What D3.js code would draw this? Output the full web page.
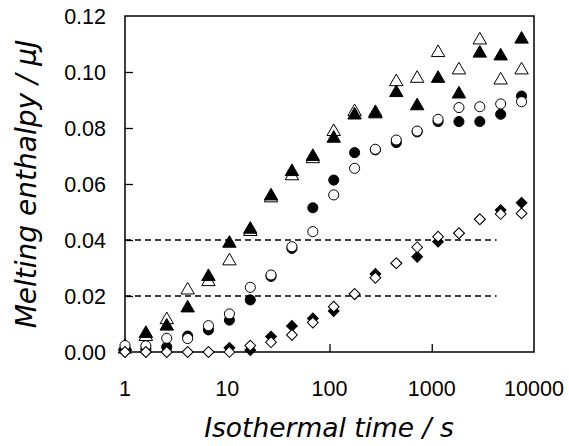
<!DOCTYPE html>
<html>
<head>
<meta charset="utf-8">
<script src="https://cdn.jsdelivr.net/npm/d3@7"></script>
<style>
  body { margin: 0; background: #fff; }
  svg { display: block; }
</style>
</head>
<body>
<div id="chart"></div>
<script>
// isothermal times (s)
var times = [1, 1.6, 2.56, 4.1, 6.55, 10.5, 16.8, 26.8, 42.9, 68.7,
             110, 176, 281, 450, 720, 1153, 1845, 2951, 4722, 7556];

// melting enthalpy (uJ) for each series
var openTriangle   = [0.001, 0.0055, 0.0115, 0.0221, 0.0251, 0.0325, 0.043, 0.055, 0.0629, 0.069,
                      0.0787, 0.0858, 0.0855, 0.0965, 0.0977, 0.1069, 0.1007, 0.1114, 0.0971, 0.1007];
var filledTriangle = [0.002, 0.0066, 0.0092, 0.0157, 0.0269, 0.0388, 0.0438, 0.0557, 0.0644, 0.0698,
                      0.0763, 0.0846, 0.085, 0.0926, 0.0879, 0.0977, 0.0921, 0.1067, 0.1057, 0.1117];
var filledCircle   = [0.001, 0.001, 0.0018, 0.0057, 0.0079, 0.0114, 0.0186, 0.027, 0.037, 0.0515,
                      0.0614, 0.0712, 0.0722, 0.0748, 0.0786, 0.0823, 0.0823, 0.0823, 0.0849, 0.0914];
var openCircle     = [0.0023, 0.0022, 0.0049, 0.0048, 0.0094, 0.0136, 0.0231, 0.0275, 0.0376, 0.043,
                      0.0561, 0.0656, 0.0724, 0.0757, 0.0789, 0.0831, 0.0873, 0.0876, 0.0886, 0.0894];
var filledDiamond  = [0, 0, 0, 0, 0, 0.0015, 0.0007, 0.0055, 0.0093, 0.012,
                      0.0146, 0.0207, 0.0279, 0.0317, 0.034, 0.0394, 0.0424, 0.0474, 0.0507, 0.0533];
var openDiamond    = [0, 0, 0, 0, 0, 0, 0.0023, 0.0035, 0.0061, 0.0105,
                      0.0162, 0.0207, 0.0265, 0.0317, 0.0374, 0.0412, 0.0424, 0.0474, 0.0493, 0.0495];

// dashed reference levels and where they stop
var refLevels = [0.04, 0.02];
var refRange = [1, 4300];

var xTicks = [1, 10, 100, 1000, 10000];
var yTicks = [0, 0.02, 0.04, 0.06, 0.08, 0.10, 0.12];

var width = 569, height = 446;
var margin = { top: 16, right: 35, bottom: 94, left: 125 };
var w = width - margin.left - margin.right;
var h = height - margin.top - margin.bottom;

var svg = d3.select("#chart").append("svg")
  .attr("width", width)
  .attr("height", height);

var g = svg.append("g")
  .attr("transform", "translate(" + margin.left + "," + margin.top + ")");

var x = d3.scaleLog().domain([1, 10000]).range([0, w]);
var y = d3.scaleLinear().domain([0, 0.12]).range([h, 0]);

// reference lines
g.selectAll(".ref")
  .data(refLevels)
  .enter().append("line")
  .attr("x1", x(refRange[0]))
  .attr("x2", x(refRange[1]))
  .attr("y1", function(d) { return y(d); })
  .attr("y2", function(d) { return y(d); })
  .attr("stroke", "#000")
  .attr("stroke-width", 1.5)
  .attr("stroke-dasharray", "6,4");

// axes (ticks point inward)
var xAxis = d3.axisBottom(x).tickValues(xTicks.slice(1, 4)).tickSize(-8).tickFormat("");
var yAxis = d3.axisLeft(y).tickValues(yTicks.slice(1, 6)).tickSize(-8).tickFormat("");

g.append("g").attr("transform", "translate(0," + h + ")").call(xAxis)
  .call(function(s) { s.select(".domain").remove(); });
g.append("g").call(yAxis)
  .call(function(s) { s.select(".domain").remove(); });
g.selectAll(".tick line").attr("stroke", "#000").attr("stroke-width", 1.3);

// frame
g.append("rect")
  .attr("width", w).attr("height", h)
  .attr("fill", "none")
  .attr("stroke", "#000")
  .attr("stroke-width", 1.5);

// tick labels
g.selectAll(".xlab")
  .data(xTicks)
  .enter().append("text")
  .attr("x", function(d) { return x(d); })
  .attr("y", h + 44)
  .attr("text-anchor", "middle")
  .style("font-family", "'Liberation Sans', Arial, sans-serif")
  .style("font-size", "21.5px")
  .text(function(d) { return d; });

g.selectAll(".ylab")
  .data(yTicks)
  .enter().append("text")
  .attr("x", -19)
  .attr("y", function(d) { return y(d); })
  .attr("dy", "0.36em")
  .attr("text-anchor", "end")
  .style("font-family", "'Liberation Sans', Arial, sans-serif")
  .style("font-size", "21.5px")
  .text(function(d) { return d3.format(".2f")(d); });

// axis titles
svg.append("text")
  .attr("x", 329)
  .attr("y", 437)
  .attr("text-anchor", "middle")
  .style("font-family", "'DejaVu Sans', Verdana, sans-serif")
  .style("font-style", "italic")
  .style("font-size", "26.5px")
  .text("Isothermal time / s");

svg.append("text")
  .attr("transform", "translate(36,184) rotate(-90)")
  .attr("text-anchor", "middle")
  .style("font-family", "'DejaVu Sans', Verdana, sans-serif")
  .style("font-style", "italic")
  .style("font-size", "28px")
  .text("Melting enthalpy / \u03bcJ");

// markers
var series = [
  { values: openTriangle,   shape: d3.symbolTriangle, size: 78, fill: "#fff" },
  { values: filledTriangle, shape: d3.symbolTriangle, size: 78, fill: "#000" },
  { values: filledCircle,   shape: d3.symbolCircle,   size: 80, fill: "#000" },
  { values: openCircle,     shape: d3.symbolCircle,   size: 80, fill: "#fff" },
  { values: filledDiamond,  shape: d3.symbolSquare,   size: 58, fill: "#000", rot: 45 },
  { values: openDiamond,    shape: d3.symbolSquare,   size: 58, fill: "#fff", rot: 45 }
];

series.forEach(function(s) {
  var sym = d3.symbol().type(s.shape).size(s.size);
  g.append("g").selectAll("path")
    .data(s.values)
    .enter().append("path")
    .attr("d", sym)
    .attr("transform", function(d, i) {
      return "translate(" + x(times[i]) + "," + y(d) + ")" + (s.rot ? " rotate(" + s.rot + ")" : "");
    })
    .attr("fill", s.fill)
    .attr("stroke", "#000")
    .attr("stroke-width", 1);
});
</script>
</body>
</html>
